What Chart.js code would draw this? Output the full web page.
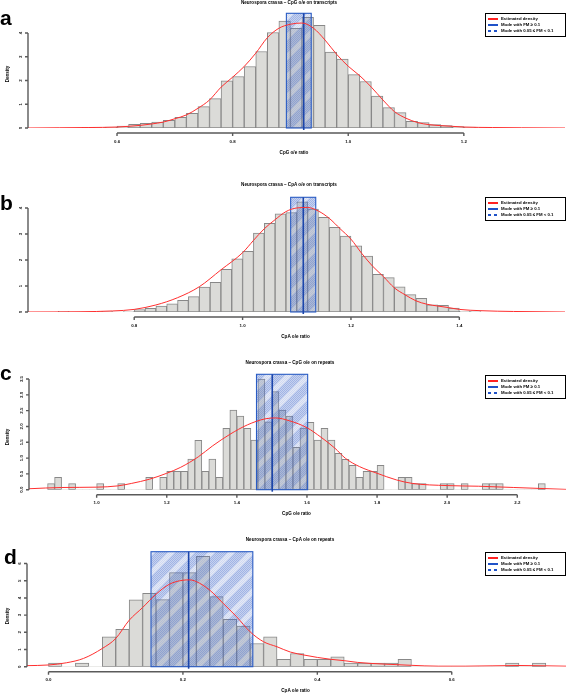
<!DOCTYPE html>
<html>
<head>
<meta charset="utf-8">
<script src="https://cdn.jsdelivr.net/npm/chart.js@4.4.1/dist/chart.umd.min.js"></script>
<style>
body{margin:0;background:#fff}
#page{position:relative;width:566px;height:694px;overflow:hidden;font-family:"Liberation Sans",Arial,sans-serif}
#page canvas{position:absolute;left:0;top:0;z-index:1}
#labels{position:absolute;left:0;top:0;width:566px;height:694px;z-index:5}
.txt{position:absolute;white-space:nowrap;font-weight:bold;color:#000;line-height:1}
.mid{font-size:4.6px;transform:translate(-50%,-50%)}
.rot{font-size:4.6px;transform:translate(-50%,-50%) rotate(-90deg)}
.let{font-size:21px;line-height:1}
.leg{position:absolute;width:81px;height:24px;border:1px solid #000;background:#fff;box-sizing:border-box}
.leg span{position:absolute;left:15px;height:6px;font-size:4.3px;font-weight:bold;white-space:nowrap;line-height:6px;color:#000}
.leg b{position:absolute;left:2px;width:10px;height:2px}
</style>
</head>
<body>
<div id="page"><div id="labels"></div></div>
<script>
"use strict"
const binW = 0.02

// a : CpG o/e on transcripts
const aStart = 0.54
const aHist = [0.03,0.03,0.04,0.08,0.15,0.2,0.25,0.32,0.45,0.62,0.9,1.24,1.99,2.17,2.59,3.22,4.02,4.5,4.2,4.66,4.32,3.2,2.9,2.25,1.96,1.34,0.86,0.65,0.28,0.23,0.14,0.1,0.06,0.04,0.02]
const aDensX = [0.446,0.5,0.55,0.6,0.62,0.64,0.66,0.68,0.7,0.72,0.74,0.76,0.78,0.8,0.82,0.84,0.86,0.88,0.9,0.92,0.94,0.96,0.98,1.0,1.02,1.04,1.06,1.08,1.1,1.12,1.14,1.16,1.18,1.2,1.25,1.3,1.375]
const aDensY = [0.0,0.01,0.02,0.04,0.07,0.11,0.17,0.25,0.39,0.55,0.83,1.18,1.72,2.14,2.59,3.15,3.8,4.2,4.37,4.42,4.2,3.7,3.1,2.6,2.2,1.72,1.18,0.69,0.41,0.23,0.14,0.1,0.07,0.04,0.02,0.01,0.0]
const aMode = [0.893,0.923,0.936]
const aXTicks = [0.6,0.8,1.0,1.2]
const aYTicks = [0,1,2,3,4]

// b : CpA o/e on transcripts
const bStart = 0.66
const bHist = [0.03,0,0,0,0.03,0,0.02,0.09,0.14,0.23,0.31,0.45,0.59,0.96,1.14,1.64,2.04,2.33,3.03,3.41,3.77,3.82,4.24,3.96,3.64,3.26,2.92,2.54,2.15,1.45,1.32,0.97,0.67,0.53,0.28,0.26,0.15,0.03,0.02]
const bDensX = [0.604,0.7,0.76,0.8,0.84,0.88,0.92,0.96,1.0,1.02,1.04,1.06,1.08,1.1,1.12,1.14,1.16,1.18,1.2,1.22,1.24,1.26,1.28,1.3,1.32,1.34,1.36,1.38,1.4,1.44,1.5,1.595]
const bDensY = [0.0,0.01,0.04,0.1,0.27,0.55,0.97,1.62,2.28,2.75,3.2,3.55,3.86,4.0,4.02,3.88,3.6,3.2,2.8,2.25,1.76,1.36,0.93,0.66,0.43,0.3,0.23,0.17,0.1,0.05,0.02,0.0]
const bMode = [1.0887,1.112,1.135]
const bXTicks = [0.8,1.0,1.2,1.4]
const bYTicks = [0,1,2,3,4]

// c : CpG o/e on repeats
const cStart = 0.86
const cHist = [0.19,0.39,0,0.19,0,0,0,0.19,0,0,0.19,0,0,0,0.39,0,0.39,0.58,0.58,0.58,0.97,1.56,0.58,0.97,0.39,1.94,2.52,2.33,1.94,1.57,3.5,2.15,3.1,2.52,2.33,1.34,1.95,2.13,1.57,1.94,1.57,1.15,0.96,0.77,0.39,0.58,0.58,0.77,0,0,0.39,0.39,0.19,0.19,0,0,0.19,0.19,0,0.19,0,0,0.19,0.19,0.19,0,0,0,0,0,0.19]
const cDensX = [0.807,0.9,1.0,1.06,1.1,1.15,1.2,1.24,1.29,1.33,1.38,1.43,1.48,1.51,1.55,1.6,1.64,1.68,1.71,1.75,1.8,1.855,1.9,2.0,2.09,2.19,2.339]
const cDensY = [0.03,0.07,0.08,0.12,0.2,0.33,0.52,0.71,1.04,1.38,1.75,2.05,2.24,2.27,2.18,1.96,1.66,1.31,0.99,0.73,0.52,0.31,0.2,0.13,0.11,0.07,0.01]
const cMode = [1.456,1.501,1.602]
const cXTicks = [1.0,1.2,1.4,1.6,1.8,2.0,2.2]
const cYTicks = [0,0.5,1,1.5,2,2.5,3,3.5]

// d : CpA o/e on repeats
const dStart = 0.0
const dHist = [0.21,0,0.21,0,1.74,2.17,3.89,4.27,3.9,5.47,5.47,6.42,4.08,2.75,2.36,1.35,1.74,0.43,0.77,0.43,0.43,0.58,0.21,0.21,0.21,0.21,0.43,0,0,0,0,0,0,0,0.21,0,0.21]
const dDensX = [-0.032,0.0,0.027,0.052,0.08,0.1,0.12,0.14,0.16,0.18,0.2,0.21,0.22,0.24,0.26,0.28,0.3,0.32,0.34,0.36,0.38,0.4,0.42,0.44,0.46,0.48,0.5,0.54,0.58,0.62,0.66,0.7,0.74,0.77]
const dDensY = [0.06,0.1,0.23,0.48,1.06,1.64,2.7,3.44,4.22,4.8,5.03,5.05,4.95,4.45,3.68,2.9,2.03,1.45,1.16,0.85,0.68,0.54,0.43,0.35,0.25,0.19,0.15,0.08,0.03,0.03,0.05,0.07,0.05,0.03]
const dMode = [0.1525,0.2085,0.304]
const dXTicks = [0.0,0.2,0.4,0.6]
const dYTicks = [0,1,2,3,4,5,6]

const legendLabels = ['Estimated density','Mode with FM  \u2265 0.1','Mode with 0.05  \u2264 FM  < 0.1']

let W = 566, H = 694
let page = document.getElementById('page')
let layer = document.getElementById('labels')

// box = plot region on the page [left, top, right, bottom]
let panels = [
	{id:'a', start:aStart, hist:aHist, dx:aDensX, dy:aDensY, mode:aMode, xt:aXTicks, yt:aYTicks, dec:0,
		xr:[0.446,1.375], ymax:4.83, box:[28,13.3,565,128],
		title:'Neurospora crassa \u2013 CpG o/e on transcripts', tx:289, ty:2.8, xl:'CpG o/e ratio', xlx:294, xly:153,
		yl:74, letTop:7.2, letLeft:0, leg:[485,13]},
	{id:'b', start:bStart, hist:bHist, dx:bDensX, dy:bDensY, mode:bMode, xt:bXTicks, yt:bYTicks, dec:0,
		xr:[0.604,1.595], ymax:4.41, box:[28,197.3,565,312],
		title:'Neurospora crassa \u2013 CpA o/e on transcripts', tx:289, ty:185, xl:'CpA o/e ratio', xlx:295.5, xly:336.7,
		yl:null, letTop:191.5, letLeft:0, leg:[485,197]},
	{id:'c', start:cStart, hist:cHist, dx:cDensX, dy:cDensY, mode:cMode, xt:cXTicks, yt:cYTicks, dec:1,
		xr:[0.807,2.339], ymax:3.65, box:[29,374.3,566,489.7],
		title:'Neurospora crassa \u2013 CpG o/e on repeats', tx:290, ty:363.3, xl:'CpG o/e ratio', xlx:296.5, xly:514,
		yl:437, letTop:361.5, letLeft:0, leg:[485,375]},
	{id:'d', start:dStart, hist:dHist, dx:dDensX, dy:dDensY, mode:dMode, xt:dXTicks, yt:dYTicks, dec:0,
		xr:[-0.032,0.770], ymax:6.69, box:[27,551.7,566,666.7],
		title:'Neurospora crassa \u2013 CpA o/e on repeats', tx:290, ty:540.4, xl:'CpA o/e ratio', xlx:295.5, xly:691.4,
		yl:616, letTop:545.5, letLeft:4, leg:[485,552]}
]

// tile for the hatched mode band: fine checker with lighter diagonal bands
let tile = (()=>{
	let n = 20
	let c = document.createElement('canvas')
	c.width = n; c.height = n
	let g = c.getContext('2d')
	let im = g.createImageData(n, n)
	for(let yy=0; yy<n; yy++){
		for(let xx=0; xx<n; xx++){
			let k = (yy*n + xx)*4
			let band = (xx + yy) % n < 7
			let dot = (xx + yy) % 2 === 0
			let al = band ? (dot ? 0.16 : 0.06) : (dot ? 0.42 : 0.22)
			im.data[k] = 55; im.data[k+1] = 95; im.data[k+2] = 200
			im.data[k+3] = Math.round(al*255)
		}
	}
	g.putImageData(im, 0, 0)
	return c
})()

let modeBand = {
	id:'modeBand',
	afterDatasetDraw(chart, args, o){
		if(args.index !== 0) return
		let {ctx, chartArea:a, scales:{x, y}} = chart
		let l = x.getPixelForValue(o.band[0]), m = x.getPixelForValue(o.band[1]), r = x.getPixelForValue(o.band[2])
		let b = y.getPixelForValue(0)
		ctx.save()
		ctx.fillStyle = 'rgba(120,150,215,0.12)'
		ctx.fillRect(l, a.top, r-l, b-a.top)
		ctx.fillStyle = ctx.createPattern(tile,'repeat')
		ctx.fillRect(l, a.top, r-l, b-a.top)
		ctx.strokeStyle = '#2a5cc4'
		ctx.lineWidth = 1.1
		ctx.strokeRect(l, a.top, r-l, b-a.top)
		ctx.strokeStyle = '#1b45ab'
		ctx.lineWidth = 1.6
		ctx.beginPath()
		ctx.moveTo(m, a.top); ctx.lineTo(m, b+2)
		ctx.stroke()
		ctx.restore()
	}
}

let rAxes = {
	id:'rAxes',
	afterDraw(chart, args, o){
		let {ctx, chartArea:a, scales:{x, y}} = chart
		ctx.save()
		ctx.strokeStyle = '#5a5a5a'
		ctx.lineWidth = 1.4
		ctx.fillStyle = '#111'
		ctx.font = 'bold 4.4px "Liberation Sans", Arial, sans-serif'
		ctx.textAlign = 'center'
		ctx.textBaseline = 'middle'
		// x axis, R style : only between first and last tick, set below the plot
		let ay = a.bottom + 5
		let x0 = x.getPixelForValue(o.xt[0]), x1 = x.getPixelForValue(o.xt[o.xt.length-1])
		ctx.beginPath()
		ctx.moveTo(x0, ay); ctx.lineTo(x1, ay)
		o.xt.forEach(t=>{
			let px = x.getPixelForValue(t)
			ctx.moveTo(px, ay); ctx.lineTo(px, ay+3)
		})
		ctx.stroke()
		o.xt.forEach(t=>{
			ctx.fillText(t.toFixed(1), x.getPixelForValue(t), a.bottom+13.5)
		})
		// y axis
		let ax = a.left
		let y0 = y.getPixelForValue(o.yt[0]), y1 = y.getPixelForValue(o.yt[o.yt.length-1])
		ctx.beginPath()
		ctx.moveTo(ax, y0); ctx.lineTo(ax, y1)
		o.yt.forEach(t=>{
			let py = y.getPixelForValue(t)
			ctx.moveTo(ax-3, py); ctx.lineTo(ax, py)
		})
		ctx.stroke()
		o.yt.forEach(t=>{
			ctx.save()
			ctx.translate(ax-7.7, y.getPixelForValue(t))
			ctx.rotate(-Math.PI/2)
			ctx.fillText(t.toFixed(o.dec), 0, 0)
			ctx.restore()
		})
		ctx.restore()
	}
}

let addText=(cls, txt, x, y)=>{
	let d = document.createElement('div')
	d.className = 'txt ' + cls
	d.textContent = txt
	d.style.left = x + 'px'
	d.style.top = y + 'px'
	layer.appendChild(d)
	return d
}

let addLegend=(pos)=>{
	let box = document.createElement('div')
	box.className = 'leg'
	box.style.left = pos[0] + 'px'
	box.style.top = pos[1] + 'px'
	let swatch = [
		'background:#ff2222',
		'background:#1f52c8',
		'background:repeating-linear-gradient(90deg,#1f52c8 0 3px,transparent 3px 6px)'
	]
	let rows = [4, 10, 16]
	legendLabels.forEach((t,i)=>{
		let sw = document.createElement('b')
		sw.setAttribute('style', swatch[i] + ';top:' + rows[i] + 'px')
		let s = document.createElement('span')
		s.textContent = t
		s.style.top = (rows[i] - 2) + 'px'
		box.appendChild(sw)
		box.appendChild(s)
	})
	layer.appendChild(box)
}

let drawPanel=(p)=>{
	let cv = document.createElement('canvas')
	cv.width = W
	cv.height = H
	page.insertBefore(cv, layer)
	let bars = p.hist.map((h,i)=>({x: p.start + binW*(i+0.5), y: h}))
	let dens = p.dx.map((v,i)=>({x: v, y: p.dy[i]}))
	new Chart(cv, {
		type:'bar',
		data:{
			datasets:[{
				type:'bar',
				data:bars,
				backgroundColor:'#dbdbd8',
				borderColor:'#888888',
				borderWidth:c=>c.raw && c.raw.y > 0 ? 1 : 0,
				borderSkipped:false,
				barPercentage:1,
				categoryPercentage:1,
				order:2
			},{
				type:'line',
				data:dens,
				borderColor:'#ff2f2f',
				borderWidth:1,
				pointRadius:0,
				cubicInterpolationMode:'monotone',
				order:1
			}]
		},
		options:{
			responsive:false,
			animation:false,
			devicePixelRatio:1,
			layout:{padding:{left:p.box[0], top:p.box[1], right:W-p.box[2], bottom:H-p.box[3]}},
			plugins:{
				legend:{display:false},
				tooltip:{enabled:false},
				modeBand:{band:p.mode},
				rAxes:{xt:p.xt, yt:p.yt, dec:p.dec}
			},
			scales:{
				x:{type:'linear', min:p.xr[0], max:p.xr[1], offset:false, display:false},
				y:{type:'linear', min:0, max:p.ymax, display:false}
			}
		},
		plugins:[modeBand, rAxes]
	})
	addText('mid', p.title, p.tx, p.ty)
	addText('mid', p.xl, p.xlx, p.xly)
	if(p.yl !== null) addText('rot', 'Density', 8.3, p.yl)
	addText('let', p.id, p.letLeft, p.letTop)
	addLegend(p.leg)
}

panels.forEach(drawPanel)
</script>
</body>
</html>
